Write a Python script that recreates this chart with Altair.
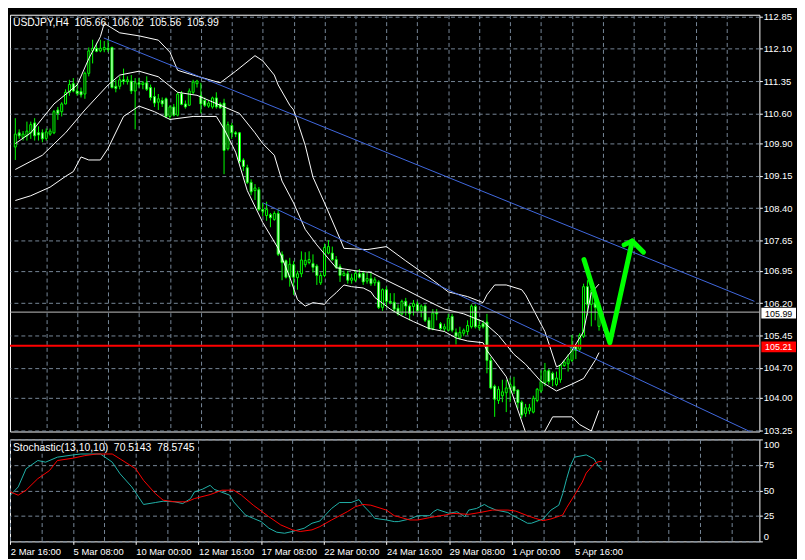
import json
import altair as alt
import pandas as pd

# ---------------- data ----------------
opens = [109.82,110.15,110.04,110.08,110.15,110.38,110.15,110.15,110.02,110.12,
         110.15,110.68,110.64,110.82,111.09,111.29,111.12,111.11,111.05,111.53,
         112.05,112.11,112.05,112.08,112.11,112.13,111.23,111.23,111.38,111.34,
         111.35,111.12,111.31,111.27,111.31,111.20,110.99,110.86,110.90,110.94,
         110.53,110.75,110.56,111.06,110.82,110.79,111.09,111.29,111.01,110.90,
         110.77,110.75,110.96,110.82,110.84,109.78,110.32,110.15,110.15,109.52,
         109.34,109.00,108.81,108.83,108.37,108.23,108.25,108.14,108.28,107.33,
         107.18,106.80,107.09,106.79,106.88,107.09,107.14,107.12,107.06,106.67,
         106.84,107.36,107.36,107.21,107.04,106.84,106.88,106.73,106.73,106.88,
         106.89,106.71,106.77,106.67,106.69,106.10,106.51,106.24,106.22,106.08,
         105.95,106.24,106.13,106.12,106.17,106.02,106.13,105.80,105.61,105.98,
         105.72,105.60,105.57,105.89,105.52,105.39,105.50,105.54,105.65,106.12,
         105.63,105.72,105.76,104.87,104.27,103.94,104.05,104.12,104.21,104.27,
         104.18,103.90,103.64,103.70,103.67,103.94,104.16,104.35,104.63,104.57,
         104.31,104.42,104.75,104.79,104.87,105.20,105.13,105.43,106.58,106.17,
         106.21,105.66]
highs = [110.49,110.23,110.19,110.41,110.41,110.49,110.30,110.23,110.25,110.25,
         110.68,110.75,110.86,111.16,111.38,111.42,111.31,111.20,111.57,112.13,
         112.31,112.24,112.31,112.28,112.31,112.15,111.38,111.46,111.64,111.46,
         111.49,111.42,111.42,111.35,111.46,111.27,111.20,111.05,110.97,110.97,
         110.79,110.82,111.09,111.12,110.90,111.18,111.38,111.38,111.31,110.97,
         110.90,110.99,111.09,110.86,110.94,110.41,110.38,110.19,110.17,109.56,
         109.41,109.07,108.96,108.89,108.52,108.55,108.29,108.33,108.37,107.40,
         107.21,107.25,107.18,106.95,107.40,107.38,107.40,107.33,107.10,106.91,
         107.58,107.66,107.51,107.29,107.10,106.95,106.95,106.88,106.97,106.99,
         106.95,106.91,106.91,106.80,106.73,106.54,106.58,106.43,106.43,106.17,
         106.28,106.32,106.17,106.27,106.24,106.17,106.17,105.87,106.06,106.06,
         105.76,105.72,105.95,105.95,105.61,105.65,105.61,105.80,106.17,106.17,
         105.83,105.80,105.95,104.95,104.31,104.27,104.42,104.42,104.46,104.49,
         104.20,103.94,103.86,103.86,104.05,104.23,104.64,104.81,104.67,104.61,
         104.61,104.79,104.87,105.01,105.46,105.24,105.50,106.65,106.73,106.62,
         106.43,106.02]
lows = [109.52,110.01,109.97,109.97,110.01,109.97,109.97,109.93,109.97,110.08,
        110.12,110.45,110.53,110.81,111.01,111.09,111.01,110.97,110.94,111.46,
        111.76,112.02,112.02,112.02,112.02,111.18,111.09,111.16,111.27,111.27,
        111.05,110.23,111.20,111.16,111.12,110.90,110.75,110.68,110.75,110.49,
        110.45,110.53,110.53,110.79,110.71,110.77,111.05,111.20,110.60,110.75,
        110.73,110.71,110.71,110.71,109.19,109.74,110.01,110.05,109.44,109.26,
        108.96,108.70,108.59,108.33,108.22,108.11,107.96,108.11,107.29,106.73,
        106.77,106.58,106.39,106.51,106.80,107.03,107.10,106.91,106.62,106.62,
        106.80,107.33,107.18,106.99,106.69,106.82,106.65,106.65,106.69,106.77,
        106.62,106.65,106.60,106.60,106.06,106.02,106.10,106.17,105.98,105.91,
        105.91,105.91,105.80,105.91,105.98,105.87,105.76,105.57,105.57,105.80,
        105.57,105.54,105.54,105.52,105.24,105.35,105.43,105.46,105.61,105.61,
        105.57,105.61,104.57,104.20,103.56,103.86,103.90,103.67,103.90,104.09,
        103.75,103.53,103.56,103.62,103.64,103.90,104.12,104.27,104.31,104.27,
        104.27,104.35,104.72,104.61,104.83,104.90,105.09,105.39,105.91,105.66,
        105.80,105.56]
closes = [110.12,110.08,110.12,110.19,110.34,110.08,110.10,110.01,110.17,110.19,
          110.64,110.60,110.82,111.09,111.27,111.12,111.06,111.03,111.53,112.05,
          112.11,112.04,112.11,112.13,112.08,111.20,111.18,111.38,111.34,111.38,
          111.12,111.31,111.27,111.31,111.16,110.97,110.84,110.94,110.82,110.53,
          110.75,110.56,111.05,110.81,110.75,111.12,111.33,111.35,110.82,110.79,
          110.84,110.96,110.75,110.73,109.74,110.34,110.15,110.12,109.48,109.37,
          109.00,108.78,108.87,108.37,108.33,108.37,108.18,108.28,107.33,107.14,
          106.80,107.10,106.80,106.88,107.20,107.19,107.21,107.03,106.84,106.84,
          107.49,107.51,107.21,107.03,106.84,106.89,106.73,106.78,106.89,106.80,
          106.69,106.77,106.65,106.74,106.10,106.51,106.24,106.21,106.06,105.95,
          106.24,106.13,105.95,106.19,106.02,106.13,105.80,105.61,105.97,105.95,
          105.61,105.65,105.85,105.57,105.43,105.52,105.57,105.68,106.13,105.65,
          105.68,105.65,104.87,104.23,103.97,104.20,104.14,104.23,104.31,104.16,
          103.89,103.60,103.77,103.77,103.99,104.20,104.38,104.63,104.38,104.42,
          104.46,104.76,104.83,104.90,105.20,105.10,105.45,106.58,106.17,106.49,
          106.10,105.99]

time_labels = ["2 Mar 16:00", "5 Mar 08:00", "10 Mar 00:00", "12 Mar 16:00",
               "17 Mar 08:00", "22 Mar 00:00", "24 Mar 16:00", "29 Mar 08:00",
               "1 Apr 00:00", "5 Apr 16:00"]
price_ticks = [112.85, 112.10, 111.35, 110.60, 109.90, 109.15, 108.40,
               107.65, 106.95, 106.20, 105.45, 104.70, 104.00, 103.25]
stoch_ticks = [0, 25, 50, 75, 100]

ub_idx = [0,4,10,16,19,22,23,27,32,37,40,42,46,53,57,62,64,67,68,71,72,75,77,80,84,
          85,91,96,101,107,112,117,121,122,124,127,131,132,137,140,141,144,147,149,151]
ub_val = [109.90,110.15,110.82,111.26,111.87,112.38,112.69,112.47,112.40,112.30,
          112.02,111.60,111.49,111.31,111.58,111.94,111.82,111.49,111.26,110.79,
          110.68,109.86,109.12,108.52,107.69,107.47,107.44,107.51,107.18,106.80,
          106.46,106.35,106.21,106.39,106.62,106.62,106.51,106.39,105.54,104.72,
          104.76,105.10,105.54,106.44,106.64]
mb_idx = [0,7,13,18,24,27,32,37,42,47,53,58,62,64,67,69,72,75,78,83,88,92,96,101,106,
          111,116,121,125,129,132,136,140,144,147,150,151]
mb_val = [109.30,109.63,110.15,110.68,111.26,111.49,111.58,111.45,111.09,111.02,
          110.79,110.60,110.15,109.90,109.63,109.03,108.52,107.91,107.55,107.02,
          106.95,106.91,106.73,106.51,106.28,106.06,105.95,105.77,105.45,105.01,
          104.78,104.38,104.16,104.32,104.45,104.87,105.05]
lb_idx = [0,4,9,13,15,17,19,22,24,28,32,36,40,46,52,54,57,60,64,68,71,73,75,77,80,
          81,83,85,87,90,92,93,97,100,103,107,111,114,117,121,122,127,132,134,137,
          139,144,146,149,151]
lb_val = [108.58,108.69,108.89,109.14,109.25,109.59,109.52,109.52,109.79,110.53,
          110.77,110.64,110.46,110.53,110.53,110.24,109.70,108.81,108.07,107.47,
          106.80,106.28,106.13,106.21,106.17,106.28,106.44,106.62,106.58,106.55,
          106.46,106.33,106.06,105.90,105.77,105.61,105.54,105.39,105.32,105.28,
          105.10,104.49,103.20,102.90,103.23,103.56,103.56,103.38,103.23,103.71]

k_idx = [0,2,4,7,9,12,16,18,23,26,28,31,34,37,39,42,44,46,47,49,51,52,56,57,60,62,64,
         66,68,70,72,75,77,79,80,82,84,87,89,90,92,93,96,98,99,102,104,107,108,109,112,
         114,116,117,119,121,122,124,127,128,130,132,133,136,138,140,141,142,143,144,
         147,149,150,151]
k_val = [45.3,53.4,71.2,79.3,77.7,82.6,84.8,85.7,85.7,77.7,66.3,53.4,36.2,38.1,39.4,
         38.8,37.1,42.0,48.5,51.1,55.0,51.1,45.3,38.8,25.9,22.6,19.4,12.9,9.0,8.0,
         9.7,12.9,17.8,20.0,24.2,32.3,38.1,38.1,41.0,35.5,27.5,22.6,21.0,19.4,19.4,
         22.0,25.2,25.2,29.1,31.3,27.5,29.1,24.2,30.7,32.3,36.2,33.9,30.7,28.4,25.9,
         22.0,17.8,17.8,22.0,30.7,35.5,46.9,61.5,74.4,82.6,84.8,80.9,74.4,70.5143]
d_idx = [0,2,4,7,10,12,16,19,22,26,28,32,34,37,39,42,45,47,51,54,57,59,62,66,69,72,74,
         77,79,82,86,88,90,92,96,98,99,102,104,107,111,113,117,120,123,127,129,132,134,
         136,138,141,142,144,146,147,149,150,151]
d_val = [48.5,45.3,50.2,61.5,69.5,79.3,81.6,84.1,85.7,85.7,80.9,71.2,59.8,46.9,40.4,
         38.8,38.8,42.0,45.9,50.2,50.2,45.3,35.5,24.2,16.2,11.3,9.7,11.3,14.5,21.0,
         29.1,33.9,36.2,35.5,30.7,25.2,24.2,21.0,21.0,23.3,25.9,27.5,26.5,28.4,30.7,
         30.7,29.7,25.2,22.6,20.3,22.0,25.9,33.0,45.3,58.2,67.0,76.0,78.0,78.5745]

trend1_idx = [22.9, 191.2]
trend1_val = [112.35, 106.24]
trend2_idx = [64.2, 191.2]
trend2_val = [108.52, 103.17]
red_level = 105.21
arrow_idx = [147.1, 153.8, 159.6]
arrow_val = [107.21, 105.28, 107.64]
head_idx = [157.5, 159.6, 162.5]
head_val = [107.55, 107.64, 107.38]

# ---------------- styling ----------------
W, HM, HS = 757, 421, 103
LIME = "#00ff00"
GRID = "#778899"
FONT = "Liberation Sans"
FS = 9.5
DASH = [4, 3]

xs = alt.Scale(domain=[-0.1, 191.2], nice=False, zero=False)
ys = alt.Scale(domain=[103.22, 112.89], nice=False, zero=False)
ss = alt.Scale(domain=[0, 100], nice=False, zero=False)

grid_vals = list(range(8, 192, 8))
x_main_axis = alt.Axis(values=grid_vals, grid=True, gridColor=GRID, gridDash=DASH,
                       labels=False, ticks=False, domain=False, title=None)
y_main_axis = alt.Axis(orient="right", values=price_ticks, format=".2f", grid=True,
                       gridColor=GRID, gridDash=DASH, labelColor="white", labelFont=FONT,
                       labelFontSize=FS, tickColor="white", tickSize=3, labelPadding=1,
                       domain=False, title=None, labelOverlap=False, labelSeparation=0)


def X(field):
    return alt.X(field, scale=xs, axis=x_main_axis)


def Y(field):
    return alt.Y(field, scale=ys, axis=y_main_axis)


n = len(opens)
candles = pd.DataFrame({"i": list(range(n)), "open": opens, "high": highs,
                        "low": lows, "close": closes})
base = alt.Chart(candles)
wicks = base.mark_rule(color=LIME, strokeWidth=1, clip=True).encode(
    x=X("i:Q"), y=Y("low:Q"), y2="high:Q")
bodies = base.mark_bar(size=2, stroke=LIME, strokeWidth=1, clip=True).encode(
    x=X("i:Q"), y=Y("open:Q"), y2="close:Q",
    fill=alt.condition("datum.close >= datum.open", alt.value("black"), alt.value("white")))

bands_df = pd.concat([
    pd.DataFrame({"band": "upper", "i": ub_idx, "v": ub_val}),
    pd.DataFrame({"band": "middle", "i": mb_idx, "v": mb_val}),
    pd.DataFrame({"band": "lower", "i": lb_idx, "v": lb_val}),
])
bands = alt.Chart(bands_df).mark_line(color="white", strokeWidth=1, clip=True).encode(
    x=X("i:Q"), y=Y("v:Q"), detail="band:N")

trend_df = pd.concat([
    pd.DataFrame({"line": "t1", "i": trend1_idx, "v": trend1_val}),
    pd.DataFrame({"line": "t2", "i": trend2_idx, "v": trend2_val}),
])
trend = alt.Chart(trend_df).mark_line(color="#4169e1", strokeWidth=1, clip=True).encode(
    x=X("i:Q"), y=Y("v:Q"), detail="line:N")

red_rule = alt.Chart(pd.DataFrame({"p": [red_level]})).mark_rule(
    color="#ff0000", strokeWidth=2).encode(y=Y("p:Q"))
bid_rule = alt.Chart(pd.DataFrame({"p": [closes[-1]]})).mark_rule(
    color="#c0c0c0", strokeWidth=1).encode(y=Y("p:Q"))

arrow_df = pd.concat([
    pd.DataFrame({"seg": "shaft", "o": [0, 1, 2], "i": arrow_idx, "v": arrow_val}),
    pd.DataFrame({"seg": "head", "o": [0, 1, 2], "i": head_idx, "v": head_val}),
])
arrow = alt.Chart(arrow_df).mark_line(color=LIME, strokeWidth=5, strokeCap="round",
                                      strokeJoin="round", clip=True).encode(
    x=X("i:Q"), y=Y("v:Q"), detail="seg:N", order="o:Q")

NB = "\u00a0"
header = (f"USDJPY,H4{NB}{NB}{opens[-1]:.2f}{NB}{NB}{highs[-1]:.2f}{NB}{NB}"
          f"{lows[-1]:.2f}{NB}{NB}{closes[-1]:.2f}")
head_txt = alt.Chart(pd.DataFrame({"t": [header]})).mark_text(
    align="left", baseline="top", color="white", font=FONT, fontSize=10.5).encode(
    x=alt.value(3), y=alt.value(3), text="t:N")

# price boxes on the right axis (slightly lowered so they do not touch the tick label above)
BOX = "M-1,-0.25L1,-0.25L1,0.37L-1,0.37Z"
bid_df = pd.DataFrame({"p": [closes[-1]], "t": [f"{closes[-1]:.2f}"]})
red_df = pd.DataFrame({"p": [red_level], "t": [f"{red_level:.2f}"]})
bid_box = alt.Chart(bid_df).mark_point(shape=BOX, size=1225, filled=True, fill="white",
                                       opacity=1, strokeWidth=0).encode(
    x=alt.value(W + 19.5), y=Y("p:Q"))
bid_lab = alt.Chart(bid_df).mark_text(color="black", font=FONT, fontSize=9, dy=1.5).encode(
    x=alt.value(W + 19.5), y=Y("p:Q"), text="t:N")
red_box = alt.Chart(red_df).mark_point(shape=BOX, size=1225, filled=True, fill="#ff0000",
                                       opacity=1, strokeWidth=0).encode(
    x=alt.value(W + 19.5), y=Y("p:Q"))
red_lab = alt.Chart(red_df).mark_text(color="white", font=FONT, fontSize=9, dy=1.5).encode(
    x=alt.value(W + 19.5), y=Y("p:Q"), text="t:N")

main = alt.layer(wicks, bodies, bands, trend, bid_rule, red_rule, arrow, head_txt,
                 bid_box, bid_lab, red_box, red_lab).properties(width=W, height=HM)

# ---------------- stochastic panel ----------------
labels_js = json.dumps(time_labels)
label_expr = (f"(datum.value % 16 === 0 && datum.value / 16 < {len(time_labels)}) ? "
              f"{labels_js}[datum.value / 16] : ''")
x_stoch_axis = alt.Axis(values=list(range(0, 192, 8)), grid=True, gridColor=GRID,
                        gridDash=DASH, labelExpr=label_expr, labelAlign="left",
                        labelBaseline="top", labelPadding=2, labelColor="white",
                        labelFont=FONT, labelFontSize=FS,
                        tickColor={"condition": {"test": f"datum.value % 16 === 0 && datum.value / 16 < {len(time_labels)}",
                                                 "value": "white"},
                                   "value": "transparent"},
                        tickSize=3, domain=False, title=None, labelOverlap=False)
y_stoch_axis = alt.Axis(orient="right", values=stoch_ticks, grid=True, gridColor=GRID,
                        gridDash=DASH, labelColor="white", labelFont=FONT,
                        labelFontSize=FS, tickColor="white", tickSize=3, labelPadding=1,
                        labelFlush=True, domain=False, title=None, labelOverlap=False,
                        labelSeparation=0)


def SX(field):
    return alt.X(field, scale=xs, axis=x_stoch_axis)


def SY(field):
    return alt.Y(field, scale=ss, axis=y_stoch_axis)


k_line = alt.Chart(pd.DataFrame({"i": k_idx, "v": k_val})).mark_line(
    color="#20b2aa", strokeWidth=1, clip=True).encode(x=SX("i:Q"), y=SY("v:Q"))
d_line = alt.Chart(pd.DataFrame({"i": d_idx, "v": d_val})).mark_line(
    color="#ff0000", strokeWidth=1, clip=True).encode(x=SX("i:Q"), y=SY("v:Q"))
stoch_title = f"Stochastic(13,10,10){NB}{NB}{k_val[-1]:.4f}{NB}{NB}{d_val[-1]:.4f}"
stoch_txt = alt.Chart(pd.DataFrame({"t": [stoch_title]})).mark_text(
    align="left", baseline="top", color="white", font=FONT, fontSize=10.5).encode(
    x=alt.value(3), y=alt.value(4), text="t:N")

stoch = alt.layer(k_line, d_line, stoch_txt).properties(width=W, height=HS)

chart = alt.vconcat(main, stoch, spacing=3, padding=0, background="black").configure_view(
    stroke="white", strokeWidth=1).configure_axis(labelOverlap=False)

chart.save("out.html", embed_options={"renderer": "svg", "actions": False})
